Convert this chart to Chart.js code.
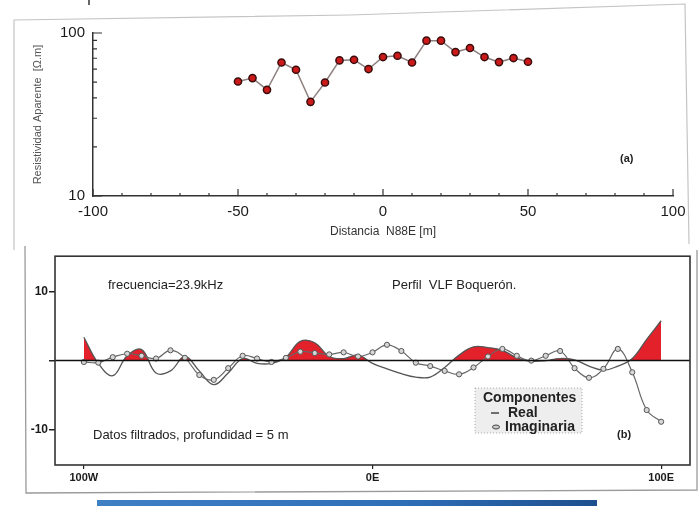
<!DOCTYPE html>
<html lang="es">
<head>
<meta charset="UTF-8">
<title>Resistividad y perfil VLF Boquerón</title>
<script src="https://cdn.jsdelivr.net/npm/chart.js"></script>
<style>
    html, body { margin: 0; padding: 0; background: #fff; }
    body { width: 700px; height: 506px; position: relative; overflow: hidden; }
    #boxA { position: absolute; left: 0; top: 0; width: 700px; height: 248px; }
    #boxB { position: absolute; left: 0; top: 248px; width: 700px; height: 258px; }
    #marcos { position: absolute; left: 0; top: 0; pointer-events: none; }
    .barra {
        position: absolute; left: 97px; top: 500px; width: 500px; height: 6px;
        background: linear-gradient(90deg, #3f7fc4, #2f6fb8 60%, #1d4f8f);
    }
</style>
</head>
<body>
<div id="boxA"><canvas id="chartA"></canvas></div>
<div id="boxB"><canvas id="chartB"></canvas></div>
<svg id="marcos" width="700" height="506">
    <g stroke="#c4c4c4" stroke-width="1.2" fill="none">
        <polyline points="14,250 14,20 350,15 685,4 689,244"/>
    </g>
    <g stroke="#9a9a9a" stroke-width="1.3" fill="none">
        <polyline points="25,246 26,493 697,490 697,250"/>
    </g>
    <line x1="89" y1="0" x2="89" y2="5" stroke="#333" stroke-width="1.5"/>
</svg>
<div class="barra"></div>

<script>
// (a) resistividad aparente
const distancia = [-50, -45, -40, -35, -30, -25, -20, -15, -10, -5, 0, 5, 10, 15, 20, 25, 30, 35, 40, 45, 50];
const resistividad = [50.4, 52.9, 44.8, 65.9, 59.5, 37.8, 49.7, 67.9, 68.5, 60.1, 71.2, 72.5, 65.9, 89.7, 89.7, 76.4, 80.9, 71.2, 66.3, 70.2, 66.6];

// (b) perfil VLF, datos filtrados
const posicion = [-100, -95, -90, -85, -80, -75, -70, -65, -60, -55, -50, -45, -40, -35, -30, -25, -20, -15, -10, -5,
    0, 5, 10, 15, 20, 25, 30, 35, 40, 45, 50, 55, 60, 65, 70, 75, 80, 85, 90, 95, 100];
const real = [3.4, -0.4, -2.2, 0.7, 1.6, -1.8, -1.5, 0.6, -1.5, -3.5, -1.8, 0.3, -0.4, -0.4, 0.5, 2.8, 2.6, 0.6, 0.3, 0.8,
    -0.4, -1.2, -1.9, -2.4, -2.4, -1.0, 0.8, 2.0, 1.9, 1.5, 0.4, -0.1, 0.0, 0.3, 0.1, -0.8, -1.4, -0.8, 0.3, 3.1, 5.8];
const imaginaria = [-0.2, -0.3, 0.5, 1.0, 0.7, 0.3, 1.5, 0.4, -2.1, -2.8, -1.1, 0.7, 0.3, -0.2, 0.4, 1.3, 1.1, 0.9, 1.2, 0.6,
    1.2, 2.3, 1.4, -0.3, -0.8, -1.5, -2.0, -1.0, 0.6, 1.7, 0.7, 0.0, 0.7, 1.4, -1.1, -2.5, -1.2, 1.7, -1.7, -7.2, -8.9];

const xTicksB = [-100, 0, 100];
const xLabelsB = ['100W', '0E', '100E'];
const yTicksB = [-10, 0, 10];

Chart.defaults.font.family = '"Liberation Sans", Arial, sans-serif';
Chart.defaults.color = '#1a1a1a';

function pares(xs, ys) {
    return xs.map((x, i) => ({ x: x, y: ys[i] }));
}

// ticks hacia adentro como en el original
const ticksAdentro = {
    id: 'ticksAdentro',
    afterDraw(chart) {
        const { ctx, chartArea: a } = chart;
        const x = chart.scales.x, y = chart.scales.y;
        ctx.save();
        ctx.strokeStyle = '#333';
        ctx.lineWidth = 1.2;
        ctx.beginPath();
        for (let v = -100; v <= 100; v += 10) {
            const px = x.getPixelForValue(v);
            const len = v % 50 === 0 ? 7 : 3;
            ctx.moveTo(px, a.bottom);
            ctx.lineTo(px, a.bottom - len);
        }
        for (let v = 10; v <= 100; v += 10) {
            const py = y.getPixelForValue(v);
            const len = (v === 10 || v === 100) ? 9 : 4;
            ctx.moveTo(a.left, py);
            ctx.lineTo(a.left + len, py);
        }
        ctx.stroke();
        ctx.font = 'bold 11px "Liberation Sans", Arial, sans-serif';
        ctx.fillStyle = '#222';
        ctx.textBaseline = 'middle';
        ctx.fillText('(a)', 620, 159);
        ctx.restore();
    }
};

new Chart(document.getElementById('chartA'), {
    type: 'line',
    data: {
        datasets: [{
            data: pares(distancia, resistividad),
            borderColor: '#8e8080',
            borderWidth: 1.5,
            pointRadius: 3.6,
            pointBackgroundColor: '#cc1a1a',
            pointBorderColor: '#3a0d0d',
            pointBorderWidth: 1.5,
            tension: 0
        }]
    },
    options: {
        responsive: true,
        maintainAspectRatio: false,
        animation: false,
        layout: { padding: { left: 0, top: 33, right: 27, bottom: 0 } },
        plugins: { legend: { display: false }, tooltip: { enabled: false } },
        scales: {
            x: {
                type: 'linear', min: -100, max: 100,
                afterFit(s) { s.height = 52; },
                grid: { display: false, drawTicks: false },
                border: { display: true, color: '#333', width: 1.5 },
                ticks: { stepSize: 50, padding: 7, font: { size: 15 } },
                title: { display: true, text: 'Distancia  N88E [m]', color: '#333', font: { size: 12 }, padding: { top: 0, bottom: 9 } }
            },
            y: {
                type: 'logarithmic', min: 10, max: 100,
                afterFit(s) { s.width = 93; },
                afterBuildTicks(s) { s.ticks = [{ value: 10 }, { value: 100 }]; },
                grid: { display: false, drawTicks: false },
                border: { display: true, color: '#333', width: 1.5 },
                ticks: { padding: 8, font: { size: 15 }, callback: v => String(v) },
                title: { display: true, text: 'Resistividad Aparente  [\u03A9.m]', color: '#555', font: { size: 11 }, padding: { top: 31, bottom: 0 } }
            }
        }
    },
    plugins: [ticksAdentro]
});

// linea de cero encima del relleno, marco, textos y leyenda del perfil VLF
const anotaciones = {
    id: 'anotaciones',
    afterDatasetsDraw(chart) {
        const { ctx, chartArea: a } = chart;
        const y0 = chart.scales.y.getPixelForValue(0);
        ctx.save();
        ctx.strokeStyle = '#111';
        ctx.lineWidth = 1.5;
        ctx.beginPath();
        ctx.moveTo(a.left, y0);
        ctx.lineTo(a.right, y0);
        ctx.stroke();
        ctx.restore();
    },
    afterDraw(chart) {
        const { ctx, chartArea: a } = chart;
        ctx.save();
        ctx.strokeStyle = '#333';
        ctx.lineWidth = 1.6;
        ctx.strokeRect(a.left, a.top, a.right - a.left, a.bottom - a.top);

        ctx.fillStyle = '#222';
        ctx.textBaseline = 'middle';
        ctx.font = '13px "Liberation Sans", Arial, sans-serif';
        ctx.fillText('frecuencia=23.9kHz', 108, 37);
        ctx.fillText('Perfil  VLF Boquer\u00f3n.', 392, 37);
        ctx.fillText('Datos filtrados, profundidad = 5 m', 93, 187);
        ctx.font = 'bold 11px "Liberation Sans", Arial, sans-serif';
        ctx.fillText('(b)', 617, 187);

        // leyenda
        ctx.fillStyle = '#eeeeee';
        ctx.fillRect(475, 140, 107, 45);
        ctx.setLineDash([1, 2]);
        ctx.strokeStyle = '#aaa';
        ctx.lineWidth = 1;
        ctx.strokeRect(475, 140, 107, 45);
        ctx.setLineDash([]);
        ctx.fillStyle = '#222';
        ctx.font = 'bold 14px "Liberation Sans", Arial, sans-serif';
        ctx.fillText('Componentes', 483, 150);
        ctx.fillText('Real', 508, 165);
        ctx.fillText('Imaginaria', 505, 179);
        ctx.strokeStyle = '#444';
        ctx.lineWidth = 1.5;
        ctx.beginPath();
        ctx.moveTo(491, 165); ctx.lineTo(499, 165);
        ctx.stroke();
        ctx.beginPath();
        ctx.ellipse(496, 179, 3.5, 2, 0, 0, Math.PI * 2);
        ctx.fillStyle = '#ccc';
        ctx.fill();
        ctx.lineWidth = 1;
        ctx.stroke();
        ctx.restore();
    }
};

new Chart(document.getElementById('chartB'), {
    type: 'line',
    data: {
        datasets: [{
            label: 'Imaginaria',
            data: pares(posicion, imaginaria),
            order: 0,
            borderColor: '#666',
            borderWidth: 1.2,
            pointRadius: 2.6,
            pointBackgroundColor: '#d6d6d6',
            pointBorderColor: '#555',
            pointBorderWidth: 1,
            tension: 0.4,
            fill: false
        }, {
            label: 'Real',
            data: pares(posicion, real),
            order: 1,
            borderColor: '#555',
            borderWidth: 1.3,
            pointRadius: 0,
            tension: 0.4,
            fill: { target: 'origin', above: '#e3212b', below: 'rgba(0,0,0,0)' }
        }]
    },
    options: {
        responsive: true,
        maintainAspectRatio: false,
        animation: false,
        layout: { padding: { left: 0, top: 8, right: 10, bottom: 0 } },
        plugins: { legend: { display: false }, tooltip: { enabled: false } },
        scales: {
            x: {
                type: 'linear', min: -110, max: 110,
                afterFit(s) { s.height = 41; },
                afterBuildTicks(s) { s.ticks = xTicksB.map(v => ({ value: v })); },
                grid: { color: 'rgba(0,0,0,0)', tickColor: '#222', tickLength: 4, lineWidth: 1.2 },
                border: { display: false },
                ticks: {
                    padding: 2,
                    font: { size: 11, weight: 'bold' },
                    callback: v => xLabelsB[xTicksB.indexOf(v)]
                }
            },
            y: {
                min: -15.2, max: 15.2,
                afterFit(s) { s.width = 55; },
                afterBuildTicks(s) { s.ticks = yTicksB.map(v => ({ value: v })); },
                grid: {
                    color: 'rgba(0,0,0,0)',
                    tickColor: '#222',
                    tickLength: 6,
                    lineWidth: 1.5
                },
                border: { display: false },
                ticks: {
                    padding: 1,
                    font: { size: 12, weight: 'bold' },
                    callback: v => v === 0 ? '' : String(v)
                }
            }
        }
    },
    plugins: [anotaciones]
});
</script>
</body>
</html>
